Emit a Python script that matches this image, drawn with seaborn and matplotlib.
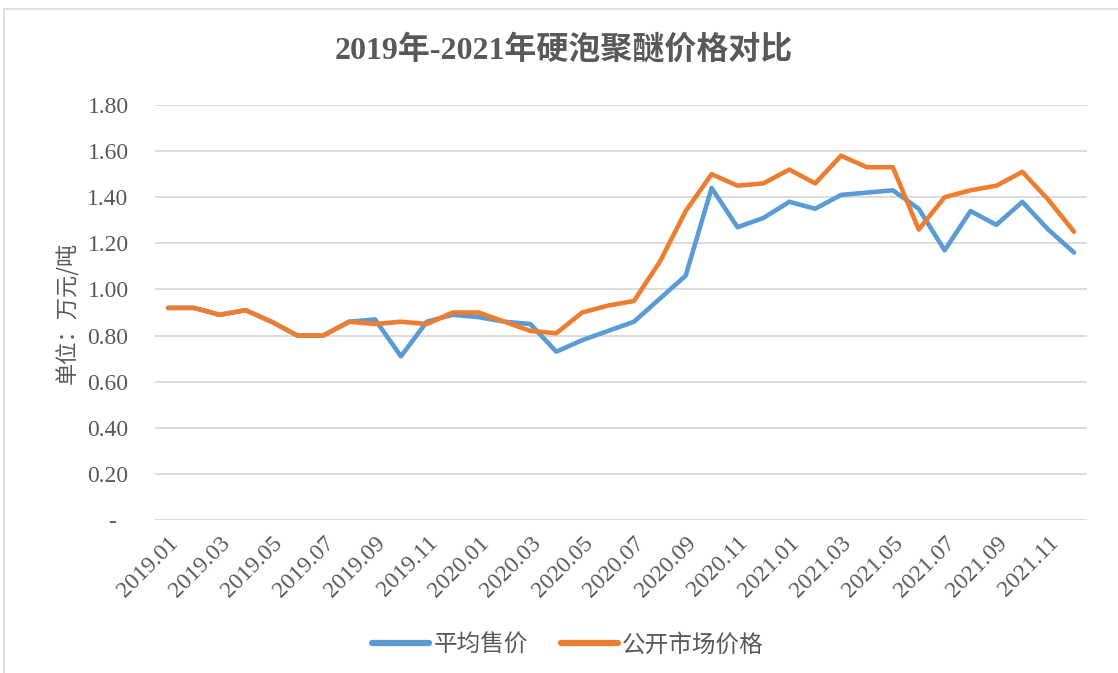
import numpy as np
import pandas as pd
import seaborn as sns
import matplotlib.pyplot as plt
from matplotlib.lines import Line2D
from matplotlib.patches import Rectangle

months = [f"{y}.{m:02d}" for y in (2019, 2020, 2021) for m in range(1, 13)]

avg_price = [
    0.92, 0.92, 0.89, 0.91, 0.86, 0.80, 0.80, 0.86, 0.87, 0.71, 0.86, 0.89,
    0.88, 0.86, 0.85, 0.73, 0.78, 0.82, 0.86, 0.96, 1.06, 1.44, 1.27, 1.31,
    1.38, 1.35, 1.41, 1.42, 1.43, 1.35, 1.17, 1.34, 1.28, 1.38, 1.26, 1.16,
]
market_price = [
    0.92, 0.92, 0.89, 0.91, 0.86, 0.80, 0.80, 0.86, 0.85, 0.86, 0.85, 0.90,
    0.90, 0.86, 0.82, 0.81, 0.90, 0.93, 0.95, 1.12, 1.34, 1.50, 1.45, 1.46,
    1.52, 1.46, 1.58, 1.53, 1.53, 1.26, 1.40, 1.43, 1.45, 1.51, 1.39, 1.25,
]
series_names = ['平均售价', '公开市场价格']
y_ticks = [0.0, 0.2, 0.4, 0.6, 0.8, 1.0, 1.2, 1.4, 1.6, 1.8]

palette = {'平均售价': '#5B9BD5', '公开市场价格': '#ED7D31'}
grey = '#595959'
fams = ['Liberation Serif', 'Noto Sans CJK SC', 'DejaVu Sans']
cjk = ['Noto Sans CJK SC', 'DejaVu Sans']

sns.set_theme(style='white')
plt.rcParams['font.family'] = fams

df = pd.DataFrame({
    'idx': list(range(len(months))) * 2,
    'value': avg_price + market_price,
    'series': [series_names[0]] * len(months) + [series_names[1]] * len(months),
})

fig = plt.figure(figsize=(11.18, 6.73), dpi=100)
ax = fig.add_axes([155 / 1118, 1 - 520 / 673, (1087 - 155) / 1118, (520 - 105) / 673])

# chart frame
fig.patches.append(Rectangle((4 / 1118, -0.1), 1.2, 1 - 9 / 673 + 0.1,
                             transform=fig.transFigure, fill=False,
                             edgecolor='#D9D9D9', lw=1.2))

sns.lineplot(data=df, x='idx', y='value', hue='series', palette=palette,
             linewidth=3.3, legend=False, ax=ax, zorder=3)

ax.set_xlim(-0.5, len(months) - 0.5)
ax.set_ylim(0, 1.8)
ax.set_yticks(y_ticks)
ax.set_yticklabels(['-  '] + [f"{v:.2f}" for v in y_ticks[1:]])
ax.yaxis.grid(True, color='#D9D9D9', lw=1.3)
ax.set_axisbelow(True)
for s in ax.spines.values():
    s.set_visible(False)

ax.set_xticks(range(0, len(months), 2))
ax.set_xticklabels(months[::2], rotation=45, ha='right', rotation_mode='anchor')
ax.tick_params(axis='x', length=0, pad=9, labelsize=17, labelcolor=grey)
ax.tick_params(axis='y', length=0, pad=19, labelsize=17, labelcolor=grey)

ax.set_xlabel('')
ax.set_ylabel('单位：万元/吨', fontsize=16, color=grey, labelpad=6, family=cjk)

fig.text(0.504, 1 - 50 / 673, '2019年-2021年硬泡聚醚价格对比', ha='center', va='center',
         fontsize=23, fontweight='bold', color=grey, family=fams)

handles = [Line2D([0], [0], color=palette[n], lw=4.5, solid_capstyle='round', label=n)
           for n in series_names]
fig.legend(handles=handles, loc='center', bbox_to_anchor=(0.508, 1 - 645 / 673), ncol=2,
           frameon=False, handlelength=2.4, columnspacing=1.4,
           handletextpad=0.2, labelcolor=grey,
           prop={'family': cjk, 'size': 17})

fig.savefig('out.png', dpi=100)
